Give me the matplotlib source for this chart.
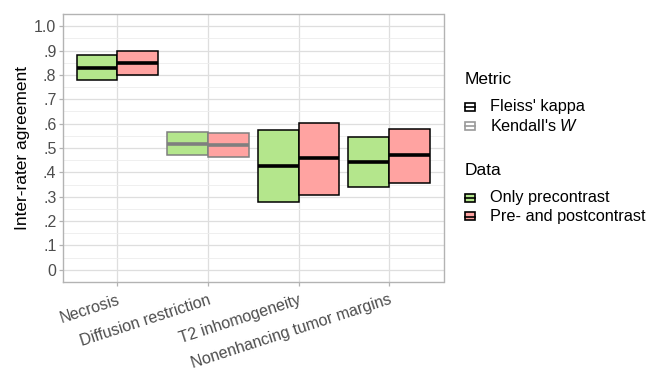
import matplotlib
matplotlib.use("Agg")
import matplotlib.pyplot as plt
from matplotlib.patches import Rectangle
from matplotlib.lines import Line2D
import numpy as np

plt.rcParams['font.family'] = ['Liberation Sans', 'DejaVu Sans']
plt.rcParams['mathtext.fontset'] = 'custom'
plt.rcParams['mathtext.rm'] = 'Liberation Sans'
plt.rcParams['mathtext.it'] = 'Liberation Sans:italic'

categories = ["Necrosis", "Diffusion restriction", "T2 inhomogeneity",
              "Nonenhancing tumor margins"]
metric = ["Fleiss' kappa", "Kendall's W", "Fleiss' kappa", "Fleiss' kappa"]

# Only precontrast
pre_est = [0.828, 0.517, 0.427, 0.444]
pre_lo = [0.778, 0.470, 0.277, 0.339]
pre_hi = [0.881, 0.564, 0.572, 0.546]

# Pre- and postcontrast
post_est = [0.850, 0.512, 0.457, 0.470]
post_lo = [0.801, 0.465, 0.309, 0.358]
post_hi = [0.898, 0.561, 0.602, 0.578]

y_ticks = [0, 0.1, 0.2, 0.3, 0.4, 0.5, 0.6, 0.7, 0.8, 0.9, 1.0]
y_labels = ["0", ".1", ".2", ".3", ".4", ".5", ".6", ".7", ".8", ".9", "1.0"]

fill_colors = {"pre": "#b4e68c", "post": "#ffa3a1"}
edge_colors = {"Fleiss' kappa": "#000000", "Kendall's W": "#7f7f7f"}

W_PX, H_PX = 650, 373
fig = plt.figure(figsize=(W_PX / 100, H_PX / 100), dpi=100)
ax = fig.add_axes([63 / W_PX, 1 - 282 / H_PX, (443.5 - 63) / W_PX, (282 - 14) / H_PX])

width = 0.45
x = np.arange(len(categories))
series = [("pre", pre_est, pre_lo, pre_hi, -width / 2),
          ("post", post_est, post_lo, post_hi, width / 2)]
for key, est, lo, hi, off in series:
    for i in range(len(categories)):
        ec = edge_colors[metric[i]]
        xc = x[i] + off
        ax.add_patch(Rectangle((xc - width / 2, lo[i]), width, hi[i] - lo[i],
                               facecolor=fill_colors[key], edgecolor=ec,
                               linewidth=1.1, zorder=3))
        ax.plot([xc - width / 2, xc + width / 2], [est[i], est[i]], color=ec,
                linewidth=2.6, solid_capstyle='butt', zorder=4)

ax.set_xlim(-0.6, len(categories) - 1 + 0.6)
ax.set_ylim(-0.05, 1.05)
ax.set_yticks(y_ticks)
ax.set_yticklabels(y_labels)
ax.set_yticks(np.arange(0.05, 1.0, 0.1), minor=True)
ax.set_xticks(x)
ax.set_xticklabels(categories, rotation=18, ha='right', rotation_mode='anchor')

ax.grid(True, which='major', color='#dedede', linewidth=0.9, zorder=0)
ax.grid(True, which='minor', axis='y', color='#ededed', linewidth=0.6, zorder=0)
ax.set_axisbelow(True)
for s in ax.spines.values():
    s.set_color('#b3b3b3')
    s.set_linewidth(1.0)
ax.tick_params(axis='both', which='major', color='#b3b3b3', length=2.7,
               width=0.9, labelcolor='#4d4d4d', labelsize=11.5)
ax.tick_params(axis='x', pad=4.5)
ax.tick_params(axis='y', which='minor', length=0)
ax.tick_params(axis='y', pad=2)
ax.set_ylabel("Inter-rater agreement", fontsize=12.5, labelpad=3)


# Legends drawn in figure pixel coordinates
def fx(px):
    return px / W_PX


def fy(py):
    return 1 - py / H_PX


def legend_key(left, cy, fc, ec):
    w, h = 10, 8
    fig.add_artist(Rectangle((fx(left), fy(cy + h / 2)), w / W_PX, h / H_PX,
                             facecolor=fc, edgecolor=ec, linewidth=1.2,
                             transform=fig.transFigure))
    fig.add_artist(Line2D([fx(left), fx(left + w)], [fy(cy), fy(cy)],
                          color=ec, linewidth=1.2, transform=fig.transFigure))


legend_groups = [
    ("Metric", 80, [(106.5, "white", "#000000", "Fleiss' kappa"),
                    (126.0, "white", "#9a9a9a", "Kendall's $\\mathit{W}$")]),
    ("Data", 170, [(197.5, fill_colors["pre"], "#000000", "Only precontrast"),
                   (216.5, fill_colors["post"], "#000000", "Pre- and postcontrast")]),
]
for title, ty, entries in legend_groups:
    fig.text(fx(465), fy(ty), title, fontsize=12.5, ha='left', va='center',
             color='black')
    for ey, fc, ec, label in entries:
        legend_key(465, ey, fc, ec)
        fig.text(fx(490), fy(ey), label, fontsize=11.7, ha='left',
                 va='center', color='black')

fig.savefig("out.png", dpi=100)
